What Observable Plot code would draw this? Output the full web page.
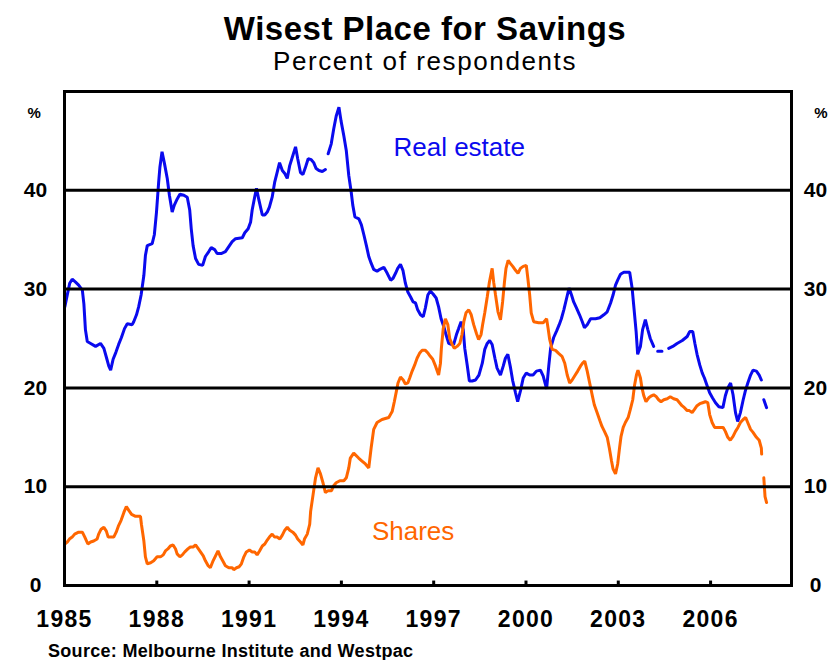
<!DOCTYPE html>
<html>
<head>
<meta charset="utf-8">
<script src="https://cdn.jsdelivr.net/npm/d3@7"></script>
<script src="https://cdn.jsdelivr.net/npm/@observablehq/plot@0.6"></script>
<style>
  body { margin: 0; background: #fff; }
  #wrap { position: relative; width: 838px; height: 660px; font-family: "Liberation Sans", Arial, sans-serif; color: #000; overflow: hidden; }
  #title { position: absolute; top: 12px; left: 0; width: 838px; padding-left: 12px; box-sizing: border-box; text-align: center; font-size: 33px; line-height: 33px; font-weight: bold; letter-spacing: 0.5px; }
  #subtitle { position: absolute; top: 48px; left: 0; width: 838px; padding-left: 12px; box-sizing: border-box; text-align: center; font-size: 26px; line-height: 26px; letter-spacing: 1.6px; }
  #chart { position: absolute; top: 80px; left: 0; }
  #source { position: absolute; left: 48px; top: 642px; font-size: 18px; line-height: 18px; font-weight: bold; letter-spacing: 0.3px; white-space: nowrap; }
  #chart g[aria-label="x-axis tick label"] text { letter-spacing: 1.3px; }
</style>
</head>
<body>
<div id="wrap">
  <div id="title">Wisest Place for Savings</div>
  <div id="subtitle">Percent of respondents</div>
  <div id="chart"></div>
  <div id="source">Source: Melbourne Institute and Westpac</div>
</div>
<script>
// [decimal year, percent]; null marks a gap in the survey series
const realEstate = [
[1985.01,28.2],[1985.09,29.4],[1985.17,30.6],[1985.25,31.0],[1985.36,30.7],[1985.46,30.4],[1985.58,29.9],[1985.63,28.5],[1985.68,25.9],[1985.74,24.7],[1985.85,24.5],[1986.01,24.2],[1986.17,24.5],[1986.28,24.0],[1986.37,23.0],[1986.44,22.2],[1986.50,21.8],[1986.58,22.9],[1986.67,23.6],[1986.76,24.4],[1986.85,25.1],[1986.95,26.0],[1987.04,26.5],[1987.20,26.4],[1987.25,26.7],[1987.34,27.4],[1987.41,28.2],[1987.49,29.4],[1987.58,31.4],[1987.63,33.4],[1987.69,34.4],[1987.85,34.6],[1987.92,35.5],[1987.99,37.8],[1988.06,40.8],[1988.10,42.3],[1988.17,43.9],[1988.25,42.7],[1988.34,41.2],[1988.41,39.5],[1988.50,37.8],[1988.57,38.5],[1988.66,39.1],[1988.75,39.6],[1988.88,39.5],[1988.99,39.3],[1989.07,38.0],[1989.12,36.1],[1989.18,34.4],[1989.26,33.1],[1989.36,32.5],[1989.49,32.4],[1989.58,33.3],[1989.69,33.8],[1989.77,34.2],[1989.88,34.0],[1989.96,33.6],[1990.09,33.6],[1990.23,33.8],[1990.34,34.3],[1990.45,34.8],[1990.56,35.1],[1990.78,35.2],[1990.86,35.7],[1990.97,36.1],[1991.05,36.8],[1991.10,38.0],[1991.18,39.3],[1991.24,40.2],[1991.32,39.0],[1991.43,37.5],[1991.51,37.5],[1991.59,37.8],[1991.66,38.3],[1991.75,39.3],[1991.83,40.8],[1991.91,41.8],[1991.99,42.8],[1992.08,42.0],[1992.16,41.7],[1992.24,41.2],[1992.32,42.5],[1992.42,43.5],[1992.51,44.4],[1992.58,43.2],[1992.67,41.8],[1992.75,41.6],[1992.83,42.3],[1992.92,43.2],[1993.02,43.1],[1993.10,42.8],[1993.18,42.2],[1993.27,42.0],[1993.38,41.9],[1993.48,42.1],[1993.52,null],[1993.57,43.7],[1993.67,44.7],[1993.75,46.2],[1993.83,47.5],[1993.92,48.4],[1993.99,47.0],[1994.08,45.5],[1994.16,44.0],[1994.24,41.5],[1994.32,39.8],[1994.37,38.5],[1994.44,37.3],[1994.57,37.1],[1994.65,36.5],[1994.73,35.5],[1994.82,34.3],[1994.89,33.3],[1994.97,32.6],[1995.05,32.0],[1995.16,31.8],[1995.25,32.0],[1995.38,32.2],[1995.49,31.6],[1995.60,30.9],[1995.68,31.1],[1995.76,31.6],[1995.83,32.1],[1995.92,32.5],[1996.00,31.9],[1996.08,30.6],[1996.16,29.7],[1996.25,29.2],[1996.33,28.7],[1996.41,28.6],[1996.48,27.9],[1996.57,27.4],[1996.66,27.2],[1996.73,28.1],[1996.81,29.4],[1996.89,29.8],[1996.98,29.5],[1997.08,29.1],[1997.16,28.2],[1997.24,27.0],[1997.33,26.2],[1997.40,25.4],[1997.49,24.5],[1997.57,24.4],[1997.65,24.4],[1997.74,25.4],[1997.81,26.0],[1997.89,26.7],[1997.96,25.9],[1998.01,24.0],[1998.09,22.3],[1998.16,20.7],[1998.25,20.7],[1998.36,20.8],[1998.47,21.3],[1998.58,22.5],[1998.66,23.9],[1998.74,24.5],[1998.82,24.8],[1998.90,24.4],[1998.99,23.0],[1999.06,22.0],[1999.17,21.3],[1999.26,22.2],[1999.33,23.0],[1999.41,23.4],[1999.50,22.0],[1999.57,20.7],[1999.66,19.5],[1999.73,18.6],[1999.82,19.7],[1999.91,21.0],[2000.01,21.5],[2000.12,21.3],[2000.23,21.3],[2000.34,21.7],[2000.47,21.8],[2000.56,21.2],[2000.67,19.9],[2000.74,22.2],[2000.80,24.0],[2000.90,25.1],[2001.00,25.8],[2001.08,26.4],[2001.15,27.0],[2001.23,27.9],[2001.33,29.2],[2001.40,30.1],[2001.48,29.4],[2001.55,28.7],[2001.64,28.1],[2001.74,27.4],[2001.83,26.7],[2001.90,26.1],[2001.99,26.4],[2002.10,27.0],[2002.26,27.0],[2002.40,27.1],[2002.53,27.4],[2002.64,27.7],[2002.75,28.6],[2002.83,29.4],[2002.91,30.4],[2002.98,30.9],[2003.07,31.5],[2003.18,31.7],[2003.37,31.7],[2003.45,30.1],[2003.50,28.4],[2003.58,25.7],[2003.63,23.4],[2003.72,24.2],[2003.79,25.9],[2003.88,26.9],[2003.96,25.9],[2004.04,25.0],[2004.15,24.2],[2004.21,null],[2004.28,23.7],[2004.42,23.7],[2004.52,null],[2004.64,24.0],[2004.77,24.2],[2004.91,24.5],[2005.08,24.8],[2005.24,25.2],[2005.32,25.7],[2005.42,25.7],[2005.49,24.5],[2005.56,23.4],[2005.65,22.3],[2005.73,21.5],[2005.80,21.0],[2005.89,20.2],[2005.97,19.5],[2006.06,19.0],[2006.16,18.5],[2006.27,18.1],[2006.40,18.0],[2006.48,19.2],[2006.56,20.0],[2006.65,20.5],[2006.73,19.3],[2006.81,17.5],[2006.88,16.6],[2006.97,17.5],[2007.06,18.8],[2007.13,19.7],[2007.21,20.5],[2007.30,21.3],[2007.38,21.8],[2007.49,21.7],[2007.58,21.3],[2007.65,20.8],[2007.69,null],[2007.73,18.8],[2007.82,18.0]
];

const shares = [
[1985.01,4.2],[1985.09,4.4],[1985.16,4.7],[1985.25,4.9],[1985.33,5.2],[1985.46,5.4],[1985.58,5.4],[1985.66,4.9],[1985.76,4.2],[1985.85,4.4],[1985.95,4.5],[1986.06,4.7],[1986.11,5.2],[1986.19,5.7],[1986.28,5.9],[1986.36,5.5],[1986.42,4.9],[1986.53,4.9],[1986.60,4.9],[1986.68,5.4],[1986.75,6.0],[1986.84,6.6],[1986.93,7.4],[1987.01,8.0],[1987.09,7.6],[1987.18,7.2],[1987.31,7.0],[1987.47,7.0],[1987.50,6.2],[1987.58,4.5],[1987.63,2.9],[1987.69,2.2],[1987.80,2.3],[1987.90,2.5],[1988.01,2.9],[1988.12,2.9],[1988.21,3.1],[1988.28,3.5],[1988.36,3.7],[1988.44,4.0],[1988.53,4.1],[1988.61,3.7],[1988.66,3.2],[1988.75,2.9],[1988.83,3.1],[1988.91,3.4],[1989.01,3.7],[1989.09,3.9],[1989.18,3.9],[1989.26,4.1],[1989.33,3.8],[1989.42,3.4],[1989.51,3.0],[1989.58,2.5],[1989.67,2.0],[1989.74,1.8],[1989.83,2.5],[1989.91,3.0],[1989.99,3.5],[1990.07,2.9],[1990.16,2.4],[1990.23,2.0],[1990.34,1.8],[1990.45,1.8],[1990.50,1.6],[1990.59,1.8],[1990.68,1.9],[1990.75,2.2],[1990.83,2.9],[1990.91,3.4],[1991.01,3.6],[1991.10,3.4],[1991.18,3.4],[1991.26,3.1],[1991.34,3.5],[1991.43,4.0],[1991.51,4.2],[1991.59,4.6],[1991.66,4.9],[1991.75,5.2],[1991.83,4.9],[1991.91,4.9],[1992.00,4.7],[1992.08,5.1],[1992.16,5.6],[1992.24,5.9],[1992.32,5.6],[1992.42,5.4],[1992.51,5.1],[1992.58,4.7],[1992.67,4.4],[1992.75,4.1],[1992.80,4.7],[1992.89,5.2],[1992.97,6.2],[1993.00,7.5],[1993.08,9.2],[1993.16,10.9],[1993.24,11.9],[1993.32,11.3],[1993.41,10.3],[1993.48,9.4],[1993.57,9.6],[1993.68,9.6],[1993.75,10.1],[1993.83,10.4],[1993.95,10.6],[1994.08,10.6],[1994.16,10.9],[1994.24,11.9],[1994.29,12.9],[1994.40,13.4],[1994.56,12.9],[1994.67,12.6],[1994.78,12.3],[1994.89,11.9],[1994.97,14.0],[1995.05,15.8],[1995.16,16.5],[1995.32,16.8],[1995.54,17.0],[1995.65,17.6],[1995.72,18.6],[1995.79,19.7],[1995.84,20.5],[1995.92,21.1],[1996.01,20.8],[1996.08,20.4],[1996.16,20.5],[1996.22,21.0],[1996.30,21.7],[1996.38,22.3],[1996.46,23.0],[1996.54,23.5],[1996.62,23.8],[1996.73,23.8],[1996.82,23.5],[1996.89,23.2],[1996.97,22.9],[1997.06,22.2],[1997.16,21.3],[1997.22,22.5],[1997.25,24.0],[1997.31,26.0],[1997.38,27.0],[1997.46,26.4],[1997.52,25.0],[1997.60,24.4],[1997.67,24.0],[1997.76,24.2],[1997.85,24.5],[1997.92,25.4],[1997.98,26.7],[1998.05,27.6],[1998.14,27.9],[1998.22,27.4],[1998.30,26.4],[1998.39,25.5],[1998.46,24.9],[1998.54,25.4],[1998.59,26.4],[1998.66,27.6],[1998.74,29.2],[1998.81,30.7],[1998.90,32.1],[1998.95,30.7],[1999.01,29.4],[1999.09,27.7],[1999.17,26.9],[1999.24,28.7],[1999.30,30.7],[1999.35,32.1],[1999.42,32.9],[1999.49,32.6],[1999.57,32.3],[1999.66,31.9],[1999.74,31.6],[1999.82,32.1],[1999.91,32.3],[2000.01,32.4],[2000.06,31.1],[2000.12,29.4],[2000.17,27.6],[2000.25,26.7],[2000.41,26.6],[2000.56,26.6],[2000.67,27.0],[2000.72,26.0],[2000.77,24.9],[2000.85,23.9],[2000.96,23.8],[2001.06,23.5],[2001.17,23.2],[2001.26,22.5],[2001.34,21.3],[2001.42,20.5],[2001.50,20.8],[2001.58,21.2],[2001.68,21.7],[2001.77,22.2],[2001.84,22.5],[2001.91,22.7],[2001.99,21.7],[2002.07,20.5],[2002.15,19.3],[2002.22,18.3],[2002.31,17.5],[2002.40,16.7],[2002.47,16.1],[2002.55,15.6],[2002.64,15.0],[2002.71,13.9],[2002.78,12.6],[2002.83,11.8],[2002.91,11.3],[2002.98,12.3],[2003.04,13.9],[2003.09,15.1],[2003.16,16.0],[2003.23,16.5],[2003.32,17.0],[2003.39,17.8],[2003.47,18.8],[2003.53,20.3],[2003.59,21.3],[2003.64,21.8],[2003.72,21.0],[2003.77,20.0],[2003.83,19.2],[2003.90,18.6],[2003.99,19.0],[2004.08,19.2],[2004.15,19.3],[2004.24,19.1],[2004.31,18.8],[2004.39,18.6],[2004.48,18.8],[2004.59,18.9],[2004.69,19.1],[2004.80,18.9],[2004.91,18.8],[2004.99,18.5],[2005.07,18.2],[2005.15,18.0],[2005.24,17.7],[2005.31,17.7],[2005.40,17.5],[2005.47,17.8],[2005.56,18.2],[2005.65,18.4],[2005.74,18.5],[2005.83,18.6],[2005.91,18.5],[2005.97,17.3],[2006.05,16.5],[2006.13,16.0],[2006.26,16.0],[2006.41,16.0],[2006.48,15.6],[2006.56,15.0],[2006.64,14.7],[2006.73,15.1],[2006.81,15.6],[2006.89,16.0],[2006.97,16.5],[2007.06,16.8],[2007.14,17.0],[2007.22,16.4],[2007.30,15.8],[2007.38,15.5],[2007.49,15.0],[2007.58,14.7],[2007.65,13.9],[2007.66,13.3],[2007.69,null],[2007.73,10.9],[2007.77,9.0],[2007.82,8.4]
];

const yearTicks = [1985, 1988, 1991, 1994, 1997, 2000, 2003, 2006];
const valueTicks = [0, 10, 20, 30, 40];
const gridValues = [10, 20, 30, 40];
const seriesLabels = [
  {name: "Real estate", year: 1997.83, value: 44.3, color: "#0a0aee"},
  {name: "Shares", year: 1996.33, value: 5.4, color: "#ff6600"}
];
const BLUE = "#0a0aee";
const ORANGE = "#ff6600";

const chart = Plot.plot({
  width: 838,
  height: 555,
  marginLeft: 64,
  marginRight: 47,
  marginTop: 11,
  marginBottom: 50,
  x: {domain: [1985, 2008.63]},
  y: {domain: [0, 50]},
  style: {fontFamily: "'Liberation Sans', Arial, sans-serif", background: "white", color: "black", overflow: "visible"},
  marks: [
    Plot.line(realEstate, {x: d => d[0], y: d => d[1], stroke: BLUE, strokeWidth: 3, strokeLinejoin: "miter"}),
    Plot.line(shares, {x: d => d[0], y: d => d[1], stroke: ORANGE, strokeWidth: 3, strokeLinejoin: "miter"}),
    Plot.ruleY(gridValues, {stroke: "black", strokeWidth: 3}),
    Plot.ruleX(yearTicks.slice(1), {y1: 0, y2: 0.45, stroke: "black", strokeWidth: 3}),
    Plot.frame({stroke: "black", strokeWidth: 3}),
    Plot.axisX({ticks: yearTicks, tickSize: 0, tickPadding: 25, tickFormat: d => String(d), fontSize: 23, fontWeight: "bold", label: null}),
    Plot.axisY({anchor: "left", ticks: valueTicks, tickSize: 0, tickPadding: 29, textAnchor: "middle", fontSize: 21, fontWeight: "bold", label: null}),
    Plot.axisY({anchor: "right", ticks: valueTicks, tickSize: 0, tickPadding: 24, textAnchor: "middle", fontSize: 21, fontWeight: "bold", label: null}),
    Plot.text(["%"], {frameAnchor: "top-left", dx: -37, dy: 16, fontSize: 15, fontWeight: "bold"}),
    Plot.text(["%"], {frameAnchor: "top-right", dx: 36, dy: 16, fontSize: 15, fontWeight: "bold"}),
    Plot.text(seriesLabels, {x: "year", y: "value", text: "name", fill: "color", fontSize: 26})
  ]
});
document.getElementById("chart").appendChild(chart);
</script>
</body>
</html>
